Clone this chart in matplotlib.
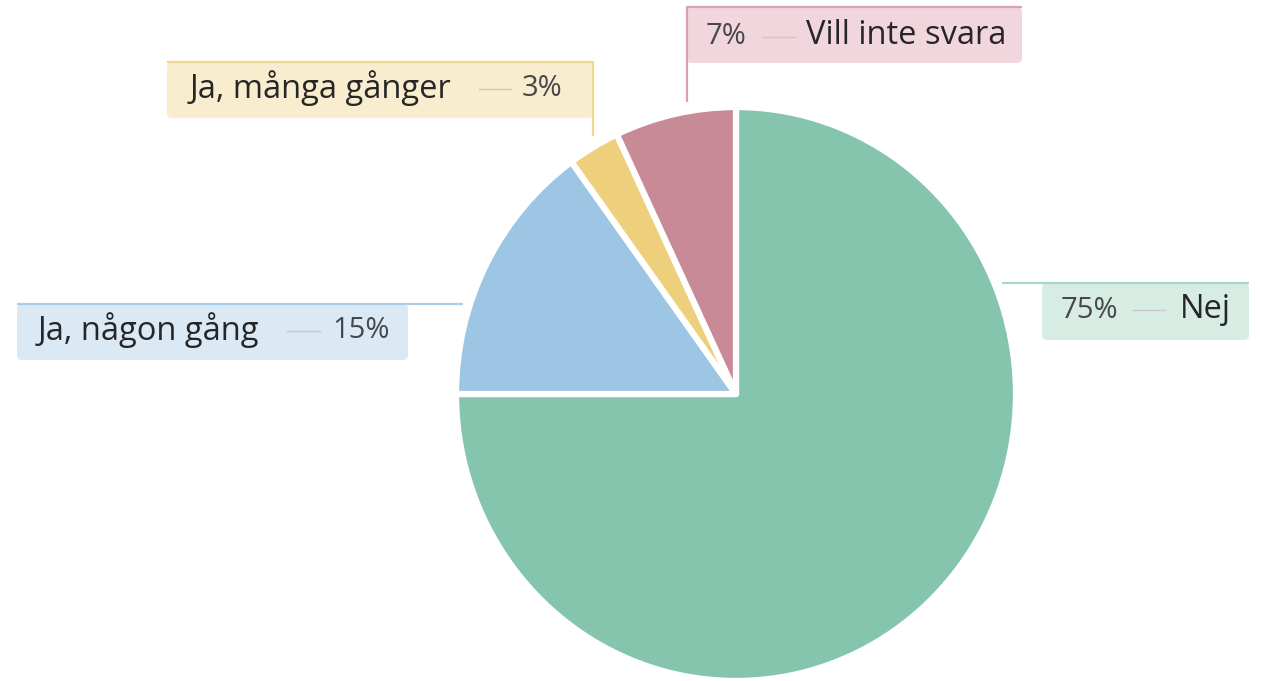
import matplotlib
matplotlib.use("Agg")
import matplotlib.pyplot as plt
from matplotlib.patches import FancyBboxPatch

# data (clockwise from 12 o'clock)
labels = ["Nej", "Ja, någon gång", "Ja, många gånger", "Vill inte svara"]
values = [75, 15, 3, 7]
colors = ["#85c5ae", "#9dc5e4", "#eed07c", "#c98a98"]
box_bg = ["#d7ede4", "#dbe9f5", "#f8edcf", "#f1d7dd"]
line_col = ["#a9d6c5", "#a9cce8", "#f0d890", "#d9a3b0"]

W, H = 1261, 681
plt.rcParams["font.family"] = ["Open Sans", "DejaVu Sans"]
fig = plt.figure(figsize=(W / 100, H / 100), dpi=100)

# pie in its own axes (pixel box: x 456..1016, y 107..681)
pax = fig.add_axes([456 / W, 0, 560 / W, 574 / H])
pax.pie(values, colors=colors, startangle=90, counterclock=False, radius=1,
        wedgeprops=dict(edgecolor="white", linewidth=4.5, joinstyle="round"))
pax.set_aspect("auto")
pax.set_xlim(-1, 1)
pax.set_ylim(-1, 1)
pax.axis("off")

# overlay axes in pixel coordinates for the callouts
ax = fig.add_axes([0, 0, 1, 1], zorder=-1)
ax.set_xlim(0, W)
ax.set_ylim(H, 0)
ax.axis("off")

LBL = "#262626"
PCT = "#484848"
FS, FS_PCT = 23.5, 21


def callout(i, box, line_pts, yc, lbl_x, lbl_ha, pct_x, dash):
    x0, y0, x1, y1 = box
    ax.add_patch(FancyBboxPatch((x0, y0), x1 - x0, y1 - y0,
                                boxstyle="round,pad=0,rounding_size=5",
                                fc=box_bg[i], ec="none", zorder=1))
    xs, ys = zip(*line_pts)
    ax.plot(xs, ys, color=line_col[i], lw=1.6, zorder=2, solid_capstyle="butt")
    ax.text(lbl_x, yc, labels[i], ha=lbl_ha, va="center", fontsize=FS,
            color=LBL, fontweight="medium", zorder=3)
    ax.text(pct_x, yc + 1, f"{values[i]}%", ha="left", va="center",
            fontsize=FS_PCT, color=PCT, zorder=3)
    ax.plot(dash, [yc + 1, yc + 1], color="#c8c8c8", lw=1.0, zorder=3)


# Ja, många gånger
callout(2, (167, 62, 593, 118), [(167, 62), (593, 62), (593, 136)],
        88, 190, "left", 522, [479, 511])
# Vill inte svara
callout(3, (687, 7, 1022, 63), [(687, 102), (687, 7), (1022, 7)],
        36, 1006, "right", 706, [762, 795])
# Ja, någon gång
callout(1, (17, 304, 408, 360), [(17, 304), (463, 304)],
        330, 38, "left", 332, [287, 320])
# Nej
callout(0, (1042, 283, 1249, 340), [(1002, 283), (1249, 283)],
        309, 1231, "right", 1061, [1133, 1165])

fig.savefig("out.png", dpi=100, facecolor="white")
